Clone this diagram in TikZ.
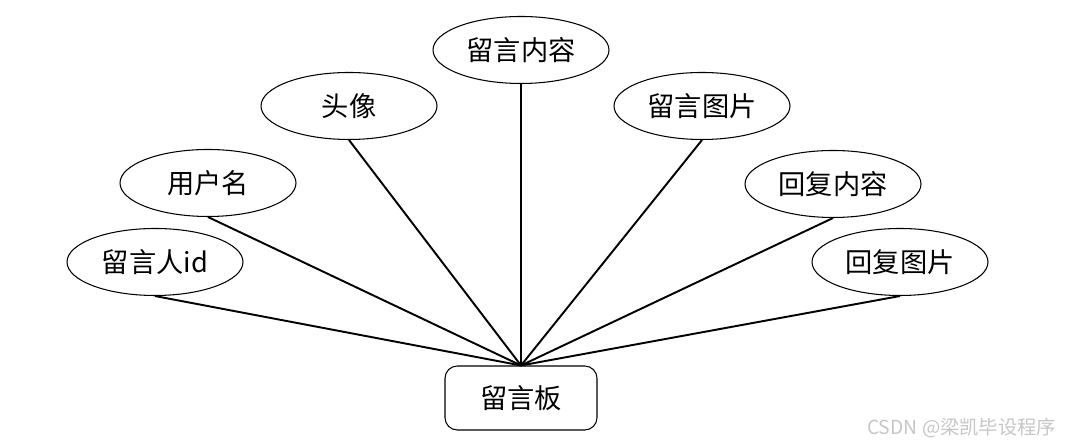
\documentclass[tikz,border=0pt]{standalone}
\usepackage{fontspec}
\setmainfont{Noto Sans CJK SC}
\usepackage{tikz}
\usetikzlibrary{shapes.geometric}

\begin{document}
\begin{tikzpicture}[
      font=\fontsize{15.5}{18}\selectfont,
      attr/.style={draw, ellipse, line width=0.6pt, minimum width=3.52cm, minimum height=1.34cm, inner sep=0pt, fill=white},
      ent/.style={draw, rounded corners=7pt, line width=0.6pt, minimum width=3.04cm, minimum height=1.28cm, align=center, fill=white},
      link/.style={line width=1.1pt},
    ]
    \useasboundingbox (0,0) rectangle (21.3,8.9);
    % entity
    \node (board) [ent] at (10.42,0.94) {留言板};

    % attributes
    \node (content) [attr] at (10.42,7.90) {留言内容};
    \node (avatar) [attr] at (6.98,6.78) {头像};
    \node (pic) [attr] at (14.04,6.78) {留言图片};
    \node (uname) [attr] at (4.16,5.24) {用户名};
    \node (rcontent) [attr] at (16.66,5.22) {回复内容};
    \node (uid) [attr] at (3.10,3.66) {留言人id};
    \node (rpic) [attr] at (18.00,3.66) {回复图片};

    % connectors
    \foreach \a in {content,avatar,pic,uname,rcontent,uid,rpic}
      \draw [link] (\a.south) -- (board.north);

    % watermark
    \node (mark) [anchor=east, text=gray!45, font=\fontsize{11}{13}\selectfont] at (21.25,0.34) {CSDN @梁凯毕设程序};
  \end{tikzpicture}
\end{document}
